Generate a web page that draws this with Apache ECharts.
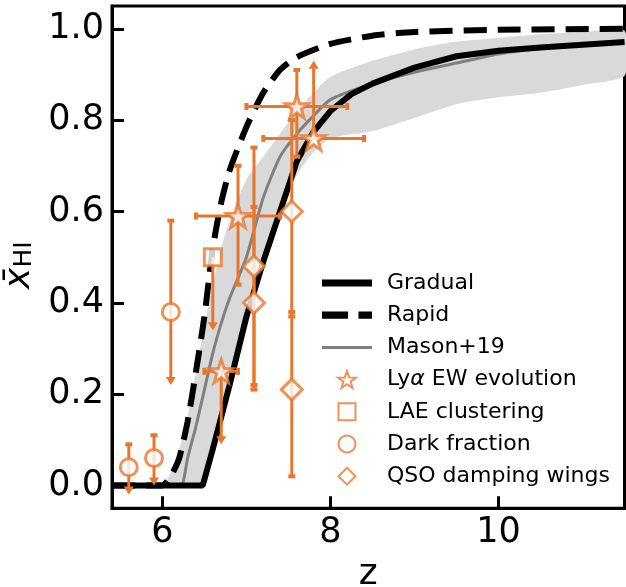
<!DOCTYPE html>
<html>
<head>
<meta charset="utf-8">
<script src="https://cdn.jsdelivr.net/npm/echarts@6/dist/echarts.min.js"></script>
<style>
  html, body { margin: 0; padding: 0; background: #fff; }
  #main { width: 626px; height: 587px; }
</style>
</head>
<body>
<div id="main"></div>
<script>
// model curves (z, mean neutral fraction)
var gradualZ = [5.4, 6.48, 6.6, 6.8, 7.0, 7.2, 7.4, 7.6, 7.8, 8.0, 8.25, 8.5, 9.0, 9.5, 10.0, 10.5, 11.0, 11.5];
var gradualX = [0, 0, 0.08, 0.22, 0.37, 0.49, 0.6, 0.71, 0.775, 0.82, 0.857, 0.88, 0.915, 0.94, 0.952, 0.959, 0.965, 0.971];

var rapidZ = [5.4, 5.8, 6.0, 6.1, 6.2, 6.3, 6.4, 6.5, 6.6, 6.7, 6.8, 7.0, 7.2, 7.4, 7.6, 8.0, 8.5, 9.0, 10.0, 11.5];
var rapidX = [0, 0, 0, 0.02, 0.06, 0.14, 0.25, 0.37, 0.52, 0.62, 0.69, 0.785, 0.86, 0.91, 0.938, 0.967, 0.985, 0.993, 0.998, 1.0];

var masonZ = [5.4, 6.0, 6.22, 6.3, 6.4, 6.5, 6.6, 6.7, 6.8, 7.0, 7.2, 7.4, 7.6, 7.8, 8.0, 8.5, 9.0, 9.5, 10.0, 10.5, 11.0, 11.5];
var masonX = [0, 0, 0, 0.06, 0.13, 0.21, 0.29, 0.355, 0.41, 0.50, 0.63, 0.72, 0.77, 0.81, 0.845, 0.88, 0.905, 0.925, 0.945, 0.957, 0.964, 0.971];

// shaded range around Mason+19
var bandUpperZ = [5.4, 6.0, 6.1, 6.2, 6.3, 6.4, 6.5, 6.6, 6.7, 6.8, 7.0, 7.2, 7.4, 7.6, 7.8, 8.0, 8.5, 9.0, 9.5, 10.0, 10.5, 11.0, 11.5];
var bandUpperX = [0, 0, 0.03, 0.08, 0.15, 0.25, 0.35, 0.44, 0.52, 0.58, 0.67, 0.72, 0.77, 0.82, 0.86, 0.895, 0.93, 0.955, 0.972, 0.98, 0.988, 0.993, 0.996];
var bandLowerZ = [5.4, 6.45, 6.6, 6.8, 7.0, 7.2, 7.4, 7.6, 7.8, 8.0, 8.5, 9.0, 9.5, 10.0, 10.5, 11.0, 11.5];
var bandLowerX = [0, 0, 0.07, 0.2, 0.34, 0.47, 0.6, 0.68, 0.73, 0.76, 0.776, 0.805, 0.835, 0.85, 0.86, 0.877, 0.897];

// observations: value, error bar ends (null = none), arrow = limit
var lyaZ = [6.7, 6.9, 7.6, 7.8];
var lyaX = [0.25, 0.59, 0.83, 0.76];
var lyaZLo = [6.5, 6.4, 7.0, 7.2];
var lyaZHi = [6.9, 7.4, 8.2, 8.4];
var lyaLo = [0.09, 0.44, 0.72, null];
var lyaHi = [null, 0.70, 0.91, 0.93];
var lyaLoArrow = [true, false, false, false];
var lyaHiArrow = [false, false, false, true];

var laeZ = [6.6];
var laeX = [0.5];
var laeLo = [0.34];
var laeHi = [null];
var laeLoArrow = [true];

var darkZ = [5.6, 5.9, 6.1];
var darkX = [0.04, 0.06, 0.38];
var darkLo = [-0.02, 0.0, 0.22];
var darkHi = [0.09, 0.11, 0.58];
var darkLoArrow = [true, true, true];

var qsoZ = [7.09, 7.09, 7.54, 7.54];
var qsoX = [0.48, 0.40, 0.60, 0.21];
var qsoLo = [0.22, 0.21, 0.37, 0.02];
var qsoHi = [0.74, 0.61, 0.80, 0.38];

var xTicks = [6, 8, 10];
var yTicks = [0, 0.2, 0.4, 0.6, 0.8, 1.0];

var orange = '#e8772e';
var starPath = 'path://M0,-10 L2.35,-3.24 L9.51,-3.09 L3.8,1.24 L5.88,8.09 L0,4 L-5.88,8.09 L-3.8,1.24 L-9.51,-3.09 L-2.35,-3.24 Z';
var squarePath = 'path://M0,0H10V10H0Z';
var diamondPath = 'path://M5,0L10,5L5,10L0,5Z';

function zip(a, b) {
    return a.map(function (v, i) { return [v, b[i]]; });
}

// collect every error bar in one list
var errPoints = [];
lyaZ.forEach(function (z, i) {
    errPoints.push({ z: z, y: lyaX[i], zlo: lyaZLo[i], zhi: lyaZHi[i], lo: lyaLo[i], hi: lyaHi[i], loArrow: lyaLoArrow[i], hiArrow: lyaHiArrow[i] });
});
laeZ.forEach(function (z, i) {
    errPoints.push({ z: z, y: laeX[i], zlo: null, zhi: null, lo: laeLo[i], hi: laeHi[i], loArrow: laeLoArrow[i], hiArrow: false });
});
darkZ.forEach(function (z, i) {
    errPoints.push({ z: z, y: darkX[i], zlo: null, zhi: null, lo: darkLo[i], hi: darkHi[i], loArrow: darkLoArrow[i], hiArrow: false });
});
qsoZ.forEach(function (z, i) {
    errPoints.push({ z: z, y: qsoX[i], zlo: null, zhi: null, lo: qsoLo[i], hi: qsoHi[i], loArrow: false, hiArrow: false });
});

var chart = echarts.init(document.getElementById('main'));

var capLen = 7;
var lineSt = { stroke: orange, lineWidth: 3 };
var capSt = { stroke: orange, lineWidth: 4 };

function renderErr(params, api) {
    var p = errPoints[params.dataIndex];
    var c = api.coord([p.z, p.y]);
    var kids = [];
    if (p.zlo != null) {
        var a = api.coord([p.zlo, p.y]);
        var b = api.coord([p.zhi, p.y]);
        kids.push({ type: 'line', shape: { x1: a[0], y1: a[1], x2: b[0], y2: b[1] }, style: lineSt });
        kids.push({ type: 'line', shape: { x1: a[0], y1: a[1] - capLen / 2, x2: a[0], y2: a[1] + capLen / 2 }, style: capSt });
        kids.push({ type: 'line', shape: { x1: b[0], y1: b[1] - capLen / 2, x2: b[0], y2: b[1] + capLen / 2 }, style: capSt });
    }
    [['lo', 'loArrow', 1], ['hi', 'hiArrow', -1]].forEach(function (k) {
        var v = p[k[0]];
        if (v == null) return;
        var e = api.coord([p.z, v]);
        var dir = k[2]; // +1 pointing down on screen
        if (p[k[1]]) {
            kids.push({ type: 'line', shape: { x1: c[0], y1: c[1], x2: e[0], y2: e[1] - dir * 6 }, style: lineSt });
            kids.push({ type: 'polygon', shape: { points: [[e[0] - 5, e[1] - dir * 8], [e[0] + 5, e[1] - dir * 8], [e[0], e[1]]] }, style: { fill: orange } });
        } else {
            kids.push({ type: 'line', shape: { x1: c[0], y1: c[1], x2: e[0], y2: e[1] }, style: lineSt });
            kids.push({ type: 'line', shape: { x1: e[0] - capLen / 2, y1: e[1], x2: e[0] + capLen / 2, y2: e[1] }, style: capSt });
        }
    });
    return { type: 'group', children: kids };
}

function renderBand(params, api) {
    var pts = [];
    for (var i = 0; i < bandUpperZ.length; i++) pts.push(api.coord([bandUpperZ[i], bandUpperX[i]]));
    for (var j = bandLowerZ.length - 1; j >= 0; j--) pts.push(api.coord([bandLowerZ[j], bandLowerX[j]]));
    return { type: 'polygon', shape: { points: pts, smooth: 0.2 }, style: { fill: '#d9d9d9' } };
}

var markerStyle = { color: '#fff', borderColor: orange, borderWidth: 3 };

var option = {
    animation: false,
    grid: { left: 112, right: 1.5, top: 6, bottom: 78.7, show: true, borderColor: '#000', borderWidth: 3, outerBoundsMode: 'none', containLabel: false },
    legend: {
        orient: 'vertical',
        left: 322,
        top: 272,
        padding: 0,
        itemWidth: 50,
        itemHeight: 17,
        itemGap: 10.2,
        data: [
            { name: 'Gradual', icon: 'path://M0,0H50V7H0Z' },
            { name: 'Rapid', icon: 'path://M0,0H25V7H0Z M35,0H48V7H35Z' },
            { name: 'Mason+19', icon: 'path://M0,0H50V3H0Z' },
            { name: 'Lyα EW evolution', icon: starPath },
            { name: 'LAE clustering', icon: squarePath },
            { name: 'Dark fraction', icon: 'circle' },
            { name: 'QSO damping wings', icon: diamondPath }
        ],
        formatter: function (name) {
            return name === 'Lyα EW evolution' ? 'Ly{i|α} EW evolution' : name;
        },
        textStyle: {
            fontFamily: 'DejaVu Sans', fontSize: 22, color: '#000', lineHeight: 20, padding: [0, 0, 0, 10],
            rich: { i: { fontStyle: 'italic', fontFamily: 'DejaVu Sans', fontSize: 22 } }
        }
    },
    xAxis: {
        type: 'value', min: 5.4, max: 11.5,
        name: 'z', nameLocation: 'middle', nameGap: 48,
        nameTextStyle: { fontFamily: 'DejaVu Sans', fontSize: 36, color: '#000' },
        splitLine: { show: false },
        axisLine: { onZero: false, lineStyle: { color: '#000', width: 3 } },
        axisTick: { inside: true, length: 12, lineStyle: { width: 3, color: '#000' }, customValues: xTicks },
        axisLabel: { customValues: xTicks, fontFamily: 'DejaVu Sans', fontSize: 35, color: '#000', margin: 7 }
    },
    yAxis: {
        type: 'value', min: -0.05, max: 1.05,
        name: '{x|x̄}{s|HI}', nameLocation: 'middle', nameRotate: 90, nameGap: 68,
        nameTextStyle: {
            padding: [0, 16, 0, 0],
            rich: {
                x: { fontFamily: 'DejaVu Sans', fontSize: 36, fontStyle: 'italic', color: '#000', verticalAlign: 'bottom' },
                s: { fontFamily: 'DejaVu Sans', fontSize: 25, color: '#000', lineHeight: 8, verticalAlign: 'bottom' }
            }
        },
        splitLine: { show: false },
        axisLine: { onZero: false, lineStyle: { color: '#000', width: 3 } },
        axisTick: { inside: true, length: 12, lineStyle: { width: 3, color: '#000' }, customValues: yTicks },
        axisLabel: {
            customValues: yTicks, fontFamily: 'DejaVu Sans', fontSize: 35, color: '#000', margin: 8,
            formatter: function (v) { return v.toFixed(1); }
        }
    },
    series: [
        { name: 'band', type: 'custom', renderItem: renderBand, data: [[bandUpperZ[0], bandUpperX[0]]], z: 1, silent: true },
        { name: 'Mason+19', type: 'line', data: zip(masonZ, masonX), symbol: 'none', z: 2, smooth: 0.2,
          lineStyle: { color: '#808080', width: 3 }, itemStyle: { color: '#808080' } },
        { name: 'Gradual', type: 'line', data: zip(gradualZ, gradualX), symbol: 'none', z: 3,
          lineStyle: { color: '#000', width: 6 }, itemStyle: { color: '#000' } },
        { name: 'Rapid', type: 'line', data: zip(rapidZ, rapidX), symbol: 'none', z: 3, smooth: 0.2,
          lineStyle: { color: '#000', width: 6, type: [23, 11], cap: 'butt' }, itemStyle: { color: '#000' } },
        { name: 'errbars', type: 'custom', renderItem: renderErr, data: errPoints.map(function (p) { return [p.z, p.y]; }), z: 4, silent: true },
        { name: 'Lyα EW evolution', type: 'scatter', data: zip(lyaZ, lyaX), symbol: starPath, symbolSize: 23, z: 5, itemStyle: markerStyle },
        { name: 'LAE clustering', type: 'scatter', data: zip(laeZ, laeX), symbol: squarePath, symbolSize: 17, z: 5, itemStyle: markerStyle },
        { name: 'Dark fraction', type: 'scatter', data: zip(darkZ, darkX), symbol: 'circle', symbolSize: 17, z: 5, itemStyle: markerStyle },
        { name: 'QSO damping wings', type: 'scatter', data: zip(qsoZ, qsoX), symbol: diamondPath, symbolSize: 21, z: 5, itemStyle: markerStyle }
    ]
};
chart.setOption(option);
</script>
</body>
</html>
